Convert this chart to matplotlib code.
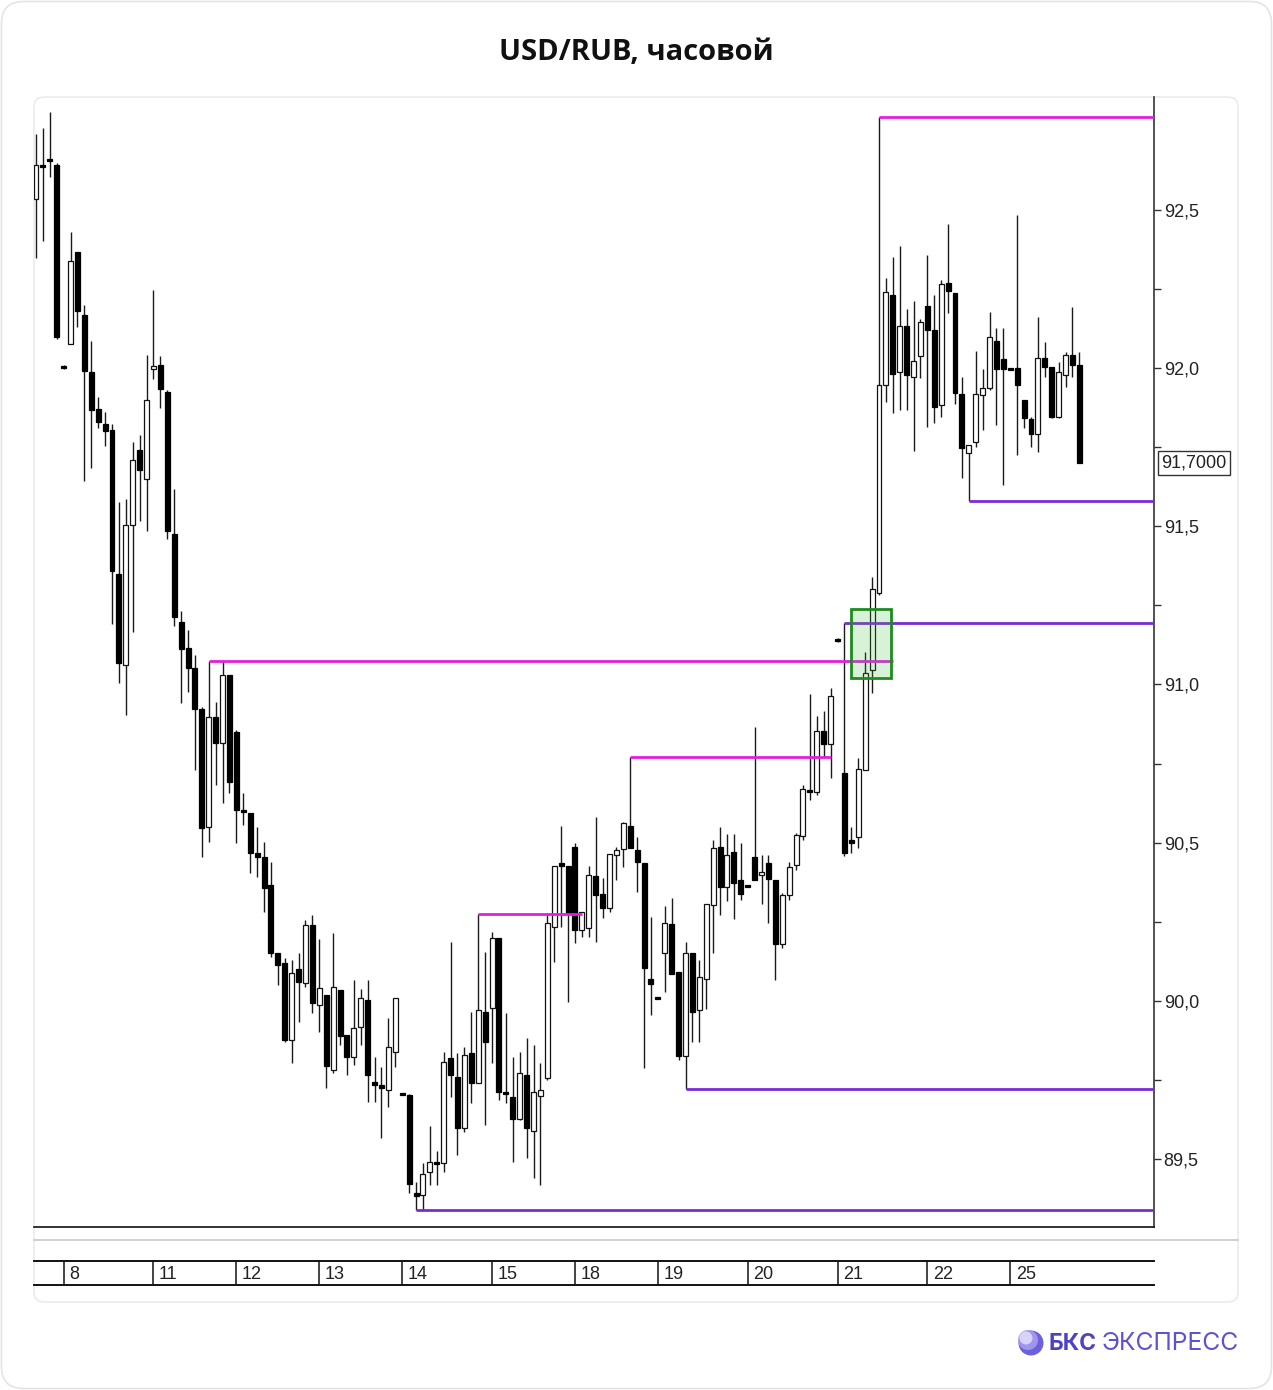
import numpy as np
import matplotlib.pyplot as plt
from matplotlib.patches import FancyBboxPatch, Rectangle, Circle
from matplotlib.transforms import blended_transform_factory

plt.rcParams['font.family'] = ['Liberation Sans', 'DejaVu Sans']

# hourly USD/RUB candles
opens = [92.534, 92.641, 92.660, 92.641, 92.006, 92.076, 92.367, 92.167, 91.987, 91.870,
         91.823, 91.804, 91.349, 91.062, 91.504, 91.741, 91.649, 91.997, 92.009, 91.924,
         91.475, 91.197, 91.115, 91.052, 90.922, 90.550, 90.897, 90.815, 91.030, 90.850,
         90.603, 90.594, 90.467, 90.455, 90.366, 90.151, 90.120, 89.877, 90.101, 90.057,
         90.240, 89.987, 90.019, 89.782, 90.035, 89.892, 89.823, 89.918, 90.003, 89.744,
         89.734, 89.718, 89.839, 89.709, 89.703, 89.393, 89.387, 89.459, 89.491, 89.488,
         89.820, 89.760, 89.598, 89.836, 89.741, 89.965, 89.978, 90.199, 89.712, 89.697,
         89.627, 89.766, 89.589, 89.700, 89.756, 90.234, 90.436, 90.426, 90.487, 90.224,
         90.230, 90.395, 90.338, 90.294, 90.461, 90.480, 90.553, 90.477, 90.436, 90.069,
         90.012, 90.151, 90.243, 90.091, 89.826, 90.151, 89.971, 90.069, 90.303, 90.487,
         90.360, 90.471, 90.382, 90.366, 90.455, 90.398, 90.436, 90.382, 90.180, 90.335,
         90.430, 90.521, 90.667, 90.660, 90.853, 90.812, 91.144, 90.720, 90.508, 90.518,
         90.730, 91.046, 91.289, 91.946, 92.231, 91.987, 92.133, 91.972, 92.038, 92.196,
         92.120, 91.883, 92.269, 92.237, 91.918, 91.731, 91.766, 91.915, 91.937, 92.085,
         92.028, 92.000, 92.000, 91.899, 91.839, 91.791, 92.032, 92.003, 91.845, 91.978,
         92.041, 92.009]
highs = [92.739, 92.758, 92.809, 92.648, 92.009, 92.430, 92.367, 92.199, 92.085, 91.908,
         91.861, 91.823, 91.577, 91.586, 91.766, 91.788, 92.041, 92.246, 92.038, 91.930,
         91.618, 91.232, 91.172, 91.093, 90.929, 91.074, 90.945, 91.074, 91.030, 90.856,
         90.657, 90.594, 90.550, 90.502, 90.439, 90.151, 90.136, 90.129, 90.151, 90.256,
         90.272, 90.196, 90.019, 90.215, 90.035, 89.892, 90.066, 90.038, 90.066, 89.823,
         89.791, 89.946, 90.009, 89.709, 89.706, 89.428, 89.488, 89.605, 89.526, 89.839,
         90.186, 89.836, 89.855, 89.965, 90.275, 90.155, 90.218, 90.199, 89.962, 89.823,
         89.839, 89.883, 89.861, 89.804, 90.278, 90.426, 90.553, 90.426, 90.499, 90.281,
         90.426, 90.581, 90.389, 90.464, 90.487, 90.565, 90.771, 90.518, 90.436, 90.265,
         90.012, 90.300, 90.325, 90.091, 90.186, 90.151, 90.129, 90.306, 90.508, 90.550,
         90.528, 90.528, 90.499, 90.366, 90.866, 90.461, 90.461, 90.382, 90.341, 90.439,
         90.531, 90.682, 90.970, 90.900, 90.916, 90.989, 91.147, 91.194, 90.550, 90.768,
         91.103, 91.340, 92.793, 92.284, 92.351, 92.386, 92.186, 92.212, 92.155, 92.357,
         92.231, 92.278, 92.455, 92.237, 91.972, 91.757, 92.054, 91.997, 92.177, 92.126,
         92.126, 92.000, 92.483, 91.899, 91.845, 92.161, 92.082, 92.003, 92.019, 92.051,
         92.193, 92.051]
lows = [92.348, 92.401, 92.604, 92.092, 91.997, 92.076, 92.130, 91.643, 91.684, 91.810,
        91.754, 91.191, 91.005, 90.903, 91.166, 91.517, 91.485, 91.965, 91.874, 91.460,
        91.185, 90.941, 90.976, 90.730, 90.455, 90.502, 90.682, 90.625, 90.657, 90.499,
        90.556, 90.404, 90.392, 90.281, 90.139, 90.050, 89.870, 89.804, 89.933, 90.044,
        89.962, 89.902, 89.725, 89.772, 89.861, 89.766, 89.798, 89.862, 89.681, 89.681,
        89.567, 89.665, 89.791, 89.703, 89.393, 89.339, 89.339, 89.418, 89.418, 89.459,
        89.696, 89.513, 89.586, 89.678, 89.741, 89.608, 89.804, 89.687, 89.678, 89.491,
        89.624, 89.504, 89.440, 89.418, 89.750, 90.123, 90.234, 89.997, 90.183, 90.202,
        90.202, 90.186, 90.262, 90.281, 90.382, 90.423, 90.483, 90.344, 89.788, 89.956,
        90.006, 90.028, 90.085, 89.813, 89.722, 89.870, 89.870, 89.975, 90.151, 90.272,
        90.316, 90.259, 90.319, 90.360, 90.382, 90.306, 90.246, 90.066, 90.167, 90.319,
        90.414, 90.508, 90.635, 90.651, 90.771, 90.704, 91.134, 90.458, 90.467, 90.483,
        90.730, 90.973, 91.283, 91.893, 91.858, 91.867, 91.867, 91.738, 91.968, 91.814,
        91.826, 91.845, 92.174, 91.886, 91.652, 91.580, 91.750, 91.804, 91.930, 91.820,
        91.630, 91.994, 91.725, 91.810, 91.750, 91.735, 91.972, 91.842, 91.842, 91.940,
        91.972, 91.700]
closes = [92.641, 92.635, 92.654, 92.098, 92.000, 92.338, 92.180, 91.991, 91.867, 91.829,
          91.801, 91.359, 91.068, 91.504, 91.709, 91.678, 91.899, 92.006, 91.934, 91.485,
          91.213, 91.112, 91.052, 90.922, 90.546, 90.897, 90.815, 91.030, 90.692, 90.603,
          90.597, 90.467, 90.455, 90.357, 90.151, 90.113, 89.877, 90.088, 90.060, 90.240,
          89.993, 90.041, 89.794, 90.044, 89.889, 89.823, 89.915, 90.009, 89.766, 89.734,
          89.725, 89.855, 90.009, 89.703, 89.421, 89.384, 89.453, 89.491, 89.485, 89.807,
          89.766, 89.598, 89.829, 89.741, 89.971, 89.870, 90.199, 89.712, 89.706, 89.627,
          89.772, 89.598, 89.712, 89.718, 90.246, 90.426, 90.426, 90.278, 90.224, 90.281,
          90.398, 90.335, 90.294, 90.464, 90.477, 90.562, 90.483, 90.439, 90.104, 90.054,
          90.006, 90.246, 90.085, 89.826, 90.151, 89.965, 90.076, 90.306, 90.483, 90.360,
          90.461, 90.373, 90.338, 90.360, 90.382, 90.407, 90.385, 90.180, 90.335, 90.423,
          90.524, 90.670, 90.660, 90.853, 90.812, 90.964, 91.137, 90.467, 90.499, 90.733,
          91.036, 91.302, 91.946, 92.240, 91.981, 92.133, 91.978, 92.022, 92.145, 92.120,
          91.877, 92.265, 92.243, 91.921, 91.747, 91.757, 91.918, 91.937, 92.098, 91.997,
          91.997, 91.994, 91.946, 91.842, 91.791, 92.032, 92.003, 91.845, 91.987, 92.041,
          92.009, 91.700]

day_labels = ['8', '11', '12', '13', '14', '15', '18', '19', '20', '21', '22', '25']
day_start = [4, 17, 29, 41, 53, 66, 78, 90, 103, 116, 129, 141]

# support / resistance levels (None = run to the right edge)
level_price = [92.793, 91.580, 91.194, 91.074, 90.771, 90.275, 89.722, 89.339]
level_from = [122, 135, 117, 25, 86, 64, 94, 55]
level_to = [None, None, None, 124.0, 115.0, 79.0, None, None]
level_kind = ['res', 'sup', 'sup', 'res', 'res', 'res', 'sup', 'sup']

# breakout zone
zone_x = (117.9, 123.7)
zone_y = (91.021, 91.238)

y_major = [89.5, 90.0, 90.5, 91.0, 91.5, 92.0, 92.5]
y_minor = [89.75, 90.25, 90.75, 91.25, 91.75, 92.25]

W, H = 1273, 1390
XMIN, XMAX = -0.29, 161.8
YMIN, YMAX = 89.286, 92.856

fig = plt.figure(figsize=(W / 100, H / 100), dpi=100)

# background layer in pixel units: frame, card, logo
bg = fig.add_axes([0, 0, 1, 1], zorder=0)
bg.set_xlim(0, W)
bg.set_ylim(H, 0)
bg.axis('off')
bg.add_patch(FancyBboxPatch((1.5, 1.5), W - 3, H - 3, boxstyle='round,pad=0,rounding_size=22',
                            fill=False, ec='#e4e4e4', lw=1.2))
bg.add_patch(FancyBboxPatch((34, 97), 1204, 1205, boxstyle='round,pad=0,rounding_size=10',
                            fill=False, ec='#e8e8e8', lw=1.0))
bg.plot([34, 1238], [1240, 1240], color='#c9c9c9', lw=1.2)

# logo: shaded sphere + wordmark
bg.add_patch(Circle((1031, 1343), 12.5, fc='#6c60dc', ec='none'))
bg.add_patch(Circle((1028, 1340), 10, fc='#a59cee', ec='none', alpha=0.9))
bg.add_patch(Circle((1026, 1338), 6.5, fc='#dedbfb', ec='none', alpha=0.9))
bg.text(1048, 1344, 'БКС', fontsize=16.5, fontweight='bold', color='#4d41c6',
        va='center', ha='left', family=['Inter', 'DejaVu Sans'])
bg.text(1239, 1344, 'ЭКСПРЕСС', fontsize=17.8, color='#5f52d2',
        va='center', ha='right', family=['Inter', 'DejaVu Sans'])

fig.text(0.5, 1 - 52 / H, 'USD/RUB, часовой', ha='center', va='center',
         fontsize=21, fontweight='bold', family=['Open Sans', 'DejaVu Sans'], color='#111111')

# main price panel
ax = fig.add_axes([34 / W, 1 - 1227 / H, 1120 / W, 1130 / H], zorder=2)
ax.patch.set_alpha(0)

o = np.array(opens)
h = np.array(highs)
l = np.array(lows)
c = np.array(closes)
x = np.arange(len(o))
up = c >= o
body = np.maximum(np.abs(c - o), 0.005)
bottom = np.minimum(o, c)

ax.vlines(x, l, h, color='#1a1a1a', lw=1.0, zorder=2)
ax.bar(x[up], body[up], bottom=bottom[up], width=0.72, facecolor='white',
       edgecolor='#111111', lw=0.9, zorder=3)
ax.bar(x[~up], body[~up], bottom=bottom[~up], width=0.72, facecolor='black',
       edgecolor='black', lw=0.9, zorder=3)

colors = {'res': '#e21ee2', 'sup': '#7a2bd6'}
for p, a, b, k in zip(level_price, level_from, level_to, level_kind):
    ax.hlines(p, a, XMAX if b is None else b, color=colors[k], lw=2.0, zorder=4)

ax.add_patch(Rectangle((zone_x[0], zone_y[0]), zone_x[1] - zone_x[0], zone_y[1] - zone_y[0],
                       fc=(0.25, 0.75, 0.25, 0.2), ec='#1f8a1f', lw=2.0, zorder=5))

ax.set_xlim(XMIN, XMAX)
ax.set_ylim(YMIN, YMAX)
ax.set_xticks([])
ax.yaxis.tick_right()
ax.set_yticks(y_major)
ax.set_yticks(y_minor, minor=True)
ax.set_yticklabels([f'{v:.1f}'.replace('.', ',') for v in y_major])
ax.tick_params(axis='y', which='both', direction='out', length=5, width=1,
               color='#333333', labelsize=13, pad=2, labelcolor='#222222')
for s in ['top', 'left']:
    ax.spines[s].set_visible(False)
ax.spines['right'].set_color('#333333')
ax.spines['bottom'].set_color('#111111')
ax.spines['right'].set_linewidth(1.2)
ax.spines['bottom'].set_linewidth(1.2)

tr = blended_transform_factory(ax.transAxes, ax.transData)
ax.text(1.0065, closes[-1], f'{closes[-1]:.4f}'.replace('.', ','), transform=tr,
        fontsize=13, va='center', ha='left', color='#222222',
        bbox=dict(boxstyle='square,pad=0.18', fc='white', ec='#333333', lw=1.0))

# date strip
dax = fig.add_axes([34 / W, 1 - 1285 / H, 1120 / W, 24 / H], zorder=2)
dax.patch.set_alpha(0)
dax.set_xlim(XMIN, XMAX)
dax.set_ylim(0, 1)
dax.set_xticks([])
dax.set_yticks([])
for s in ['left', 'right']:
    dax.spines[s].set_visible(False)
for s in ['top', 'bottom']:
    dax.spines[s].set_linewidth(1.4)
    dax.spines[s].set_color('#111111')
dax.vlines(day_start, 0, 1, color='#444444', lw=1.4)
for d, lab in zip(day_start, day_labels):
    dax.text(d + 0.8, 0.45, lab, fontsize=13, va='center', ha='left', color='#222222')

fig.savefig('out.png', dpi=100)
